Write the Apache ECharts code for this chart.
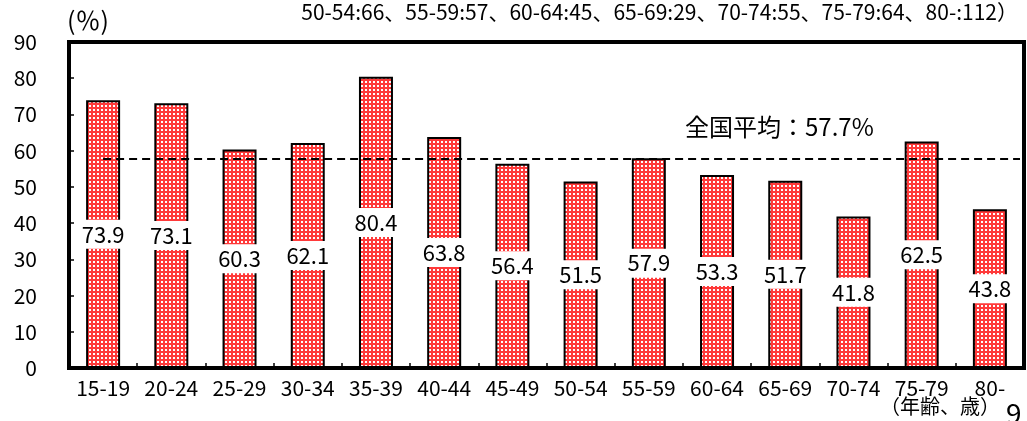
<!DOCTYPE html>
<html>
<head>
<meta charset="utf-8">
<script src="https://cdn.jsdelivr.net/npm/echarts@6/dist/echarts.min.js"></script>
<style>
  html, body { margin: 0; padding: 0; background: #fff; }
  #chart { width: 1027px; height: 421px; }
</style>
</head>
<body>
<div id="chart"></div>
<script>
// Age groups and rates (%)
const categories = ['15-19', '20-24', '25-29', '30-34', '35-39', '40-44', '45-49',
                    '50-54', '55-59', '60-64', '65-69', '70-74', '75-79', '80-'];
const rates = [73.9, 73.1, 60.3, 62.1, 80.4, 63.8, 56.4, 51.5, 57.9, 53.3, 51.7, 41.8, 62.5, 43.8];
const nationalAverage = 57.7;
const yTicks = [0, 10, 20, 30, 40, 50, 60, 70, 80, 90];
const noteText = '50-54:66、55-59:57、60-64:45、65-69:29、70-74:55、75-79:64、80-:112）';
const unitText = '(％)';
const xAxisName = '（年齢、歳）';
const pageNo = '9';

const FONT = "'Noto Sans CJK JP', sans-serif";

// Red fill with a grid of white dots
function dotPattern() {
  const c = document.createElement('canvas');
  c.width = 4; c.height = 4;
  const g = c.getContext('2d');
  g.fillStyle = '#ff3a3a';
  g.fillRect(0, 0, 4, 4);
  g.fillStyle = '#ffffff';
  g.fillRect(1, 1, 2, 2);
  return c;
}

const GRID = { left: 69, right: 3, top: 42, bottom: 53 };
const chart = echarts.init(document.getElementById('chart'), null, { renderer: 'canvas' });

chart.setOption({
  animation: false,
  backgroundColor: '#fff',
  grid: {
    left: GRID.left, right: GRID.right, top: GRID.top, bottom: GRID.bottom,
    show: true, borderColor: '#000', borderWidth: 4, backgroundColor: 'transparent'
  },
  xAxis: {
    type: 'category',
    data: categories,
    boundaryGap: true,
    axisLine: { lineStyle: { color: '#000', width: 4 } },
    axisTick: { show: true, inside: true, length: 5, lineStyle: { color: '#000', width: 1.5 } },
    axisLabel: { color: '#000', fontSize: 21, fontFamily: FONT, margin: 10, interval: 0 },
    splitLine: { show: false }
  },
  yAxis: {
    type: 'value',
    min: yTicks[0],
    max: yTicks[yTicks.length - 1],
    interval: yTicks[1] - yTicks[0],
    axisLine: { show: true, lineStyle: { color: '#000', width: 4 } },
    axisTick: { show: true, inside: true, length: 5, lineStyle: { color: '#000', width: 1.5 } },
    axisLabel: { color: '#000', fontSize: 21, fontFamily: FONT, margin: 32 },
    splitLine: { show: false }
  },
  series: [{
    type: 'bar',
    data: rates,
    barWidth: 34,
    itemStyle: {
      color: { image: dotPattern(), repeat: 'repeat' },
      borderColor: '#000',
      borderWidth: 2
    },
    label: {
      show: true,
      position: 'inside',
      color: '#000',
      fontSize: 22,
      lineHeight: 22,
      fontFamily: FONT,
      backgroundColor: '#fff',
      padding: [4, 2, 3, 2],
      formatter: p => p.value.toFixed(1)
    },
    markLine: {
      silent: true,
      symbol: 'none',
      label: { show: false },
      lineStyle: { color: '#000', type: [8, 5], width: 2 },
      data: [[
        { coord: [categories[0], nationalAverage] },
        { coord: [categories[categories.length - 1], nationalAverage], x: 1027 - GRID.right - 4 }
      ]]
    }
  }],
  graphic: [
    { type: 'text', left: 67, top: 8, style: { text: unitText, font: '25px ' + FONT, fill: '#000' } },
    { type: 'text', right: 9, top: 2, style: { text: noteText, font: '21px ' + FONT, fill: '#000' } },
    { type: 'text', left: 685, top: 115, style: { text: '全国平均：' + nationalAverage + '%', font: '24px ' + FONT, fill: '#000' } },
    { type: 'text', left: 880, top: 396, style: { text: xAxisName, font: '20px ' + FONT, fill: '#000' } },
    { type: 'text', left: 1006, top: 399, style: { text: pageNo, font: '28px ' + FONT, fill: '#000' } }
  ]
});
</script>
</body>
</html>
